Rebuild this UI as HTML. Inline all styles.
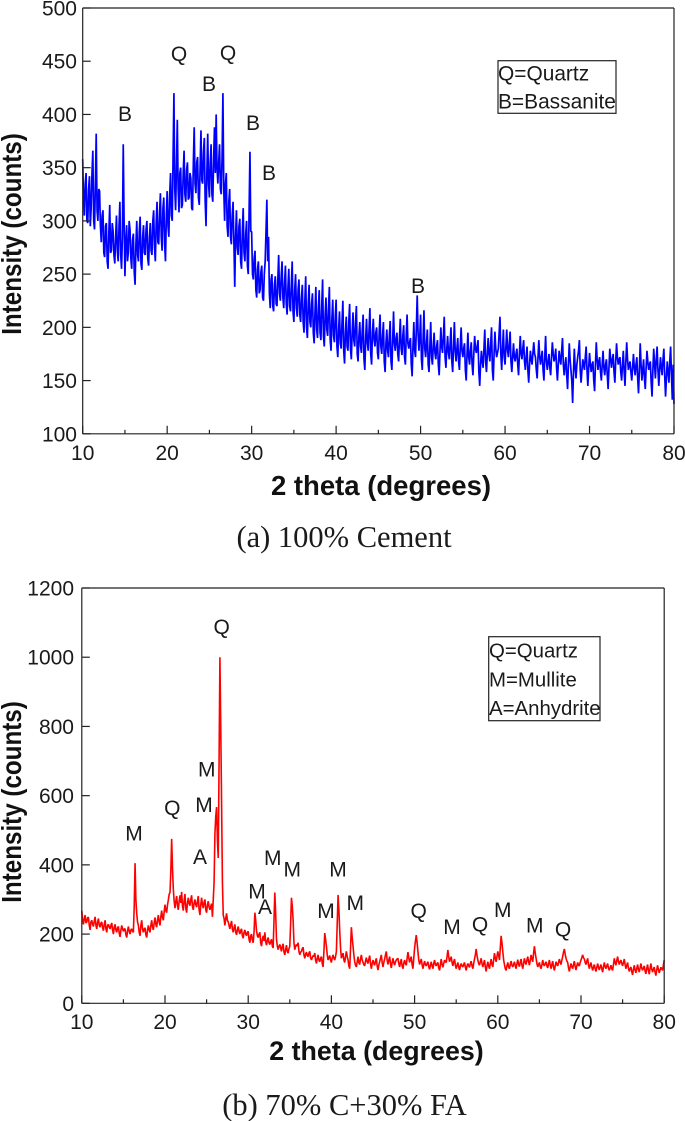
<!DOCTYPE html>
<html lang="en">
<head>
<meta charset="utf-8">
<title>XRD patterns</title>
<style>
html,body{margin:0;padding:0;background:#fff;width:685px;height:1121px;overflow:hidden}
svg{display:block}
text{font-family:"Liberation Sans",sans-serif;fill:#1a1a1a}
.serif{font-family:"Liberation Serif",serif;font-size:30.5px}
.tick{font-size:21px}
.title{font-size:27.5px;font-weight:bold;fill:#111}
.ann{font-size:21px;text-anchor:middle}
.leg{font-size:20.9px}
.leg2{font-size:20.4px}
</style>
</head>
<body>
<svg id="fig" xmlns="http://www.w3.org/2000/svg" width="685" height="1121" viewBox="0 0 685 1121">
  <g id="chartA"></g>
  <g id="chartB"></g>

  <g>
    <text class="ann" x="125" y="121">B</text>
    <text class="ann" x="179" y="61">Q</text>
    <text class="ann" x="209" y="91">B</text>
    <text class="ann" x="228" y="60">Q</text>
    <text class="ann" x="253" y="130">B</text>
    <text class="ann" x="269" y="180">B</text>
    <text class="ann" x="418" y="293">B</text>
  </g>
  <g>
    <rect x="498" y="60.7" width="118" height="52.6" fill="none" stroke="#222" stroke-width="1.2"/>
    <text class="leg" x="498" y="80.7">Q=Quartz</text>
    <text class="leg" x="498" y="108.3">B=Bassanite</text>
  </g>
  <text class="title" x="381" y="495" text-anchor="middle">2 theta (degrees)</text>
  <text class="title" transform="translate(21,234) rotate(-90) scale(0.88,1)" text-anchor="middle">Intensity (counts)</text>
  <text class="serif" x="344" y="547" text-anchor="middle">(a) 100% Cement</text>

  <g>
    <text class="ann" x="134" y="840.7">M</text>
    <text class="ann" x="172.3" y="815">Q</text>
    <text class="ann" x="206.7" y="776.7">M</text>
    <text class="ann" x="204" y="812">M</text>
    <text class="ann" x="200" y="864">A</text>
    <text class="ann" x="221.7" y="634">Q</text>
    <text class="ann" x="272.7" y="865">M</text>
    <text class="ann" x="292.3" y="876.7">M</text>
    <text class="ann" x="257" y="898.3">M</text>
    <text class="ann" x="265" y="914">A</text>
    <text class="ann" x="326" y="918">M</text>
    <text class="ann" x="338" y="876.7">M</text>
    <text class="ann" x="355.3" y="910">M</text>
    <text class="ann" x="418.7" y="918">Q</text>
    <text class="ann" x="452" y="934">M</text>
    <text class="ann" x="480" y="931.7">Q</text>
    <text class="ann" x="502.7" y="917">M</text>
    <text class="ann" x="534.7" y="932.7">M</text>
    <text class="ann" x="563" y="936.7">Q</text>
  </g>
  <g>
    <rect x="488.7" y="636.7" width="111.3" height="84" fill="none" stroke="#222" stroke-width="1.2"/>
    <text class="leg2" x="489" y="657.7">Q=Quartz</text>
    <text class="leg2" x="489" y="686.7">M=Mullite</text>
    <text class="leg2" x="489" y="715">A=Anhydrite</text>
  </g>
  <text class="title" x="376.5" y="1060" text-anchor="middle" style="font-size:26.8px">2 theta (degrees)</text>
  <text class="title" transform="translate(21,802) rotate(-90) scale(0.88,1)" text-anchor="middle">Intensity (counts)</text>
  <text class="serif" x="344.5" y="1115" text-anchor="middle">(b) 70% C+30% FA</text>
</svg>

<script>
const xStart = 10;
const xStep = 0.1;
const xTicksMajor = [10, 20, 30, 40, 50, 60, 70, 80];
const xTicksMinor = [15, 25, 35, 45, 55, 65, 75];
const yTicksCement = [100, 150, 200, 250, 300, 350, 400, 450, 500];
const yTicksFlyAsh = [0, 200, 400, 600, 800, 1000, 1200];

const cementCounts = [
358,320,305,335,345,300,298,330,342,295,312,345,366,300,292,335,382,310,300,330,
328,295,280,305,310,270,266,295,298,262,255,290,315,270,272,298,290,268,260,285,
305,272,262,295,318,268,255,285,372,300,248,280,296,262,270,300,292,265,255,282,
288,252,240,278,300,268,262,290,304,260,254,285,296,270,268,292,300,265,258,285,
298,272,268,300,310,275,262,298,318,280,278,308,326,285,272,312,322,278,262,305,
328,295,285,325,345,305,300,360,420,330,310,350,395,330,308,345,350,312,315,345,
366,325,318,348,355,320,322,345,340,312,310,355,388,335,326,355,360,322,315,350,
385,338,335,365,378,318,295,345,382,335,322,355,372,325,318,358,388,345,400,350,
335,355,372,330,325,360,420,330,300,335,345,295,285,318,330,285,278,305,318,280,
238,285,310,275,268,295,302,262,255,290,312,270,262,288,300,258,250,310,365,290,
290,250,245,265,272,235,228,255,262,232,235,252,258,228,225,250,262,290,320,262,
285,232,218,245,250,220,215,240,248,222,220,245,268,232,225,248,262,228,218,242,
258,222,212,238,255,220,215,240,262,215,205,235,250,218,210,235,245,212,205,228,
240,205,195,225,248,200,190,222,240,205,200,222,232,195,185,215,238,198,190,218,
235,195,188,220,245,192,182,212,228,198,192,218,238,188,178,208,226,192,186,210,
226,182,172,198,215,185,180,205,225,178,166,195,210,182,178,205,222,180,170,195,
214,188,182,205,220,175,168,192,205,182,176,198,212,170,160,190,208,185,178,198,
218,175,165,195,208,188,182,195,200,176,170,195,212,182,175,192,205,168,158,185,
198,178,172,192,206,168,160,188,215,185,178,190,195,175,168,190,208,180,174,192,
202,172,165,192,212,185,180,186,190,165,154,182,205,178,172,200,230,195,178,190,
212,170,160,190,216,180,172,185,198,165,158,182,205,172,165,182,195,176,170,182,
188,165,155,178,200,182,176,192,210,172,162,180,192,176,170,185,200,168,158,182,
205,178,168,180,190,168,160,182,200,178,172,180,185,160,150,175,195,172,165,178,
186,165,155,175,192,180,176,182,188,158,145,165,178,168,162,180,198,168,158,175,
190,175,168,185,200,160,150,175,196,180,172,176,180,195,210,175,160,180,198,172,
165,182,198,178,172,185,196,168,158,172,185,172,168,175,180,165,155,175,192,175,
170,180,188,168,160,172,182,160,148,165,178,170,165,176,186,175,172,160,152,172,
188,172,165,172,178,160,150,172,192,168,160,168,175,162,155,172,186,175,168,172,
180,162,150,165,178,170,165,178,190,165,155,165,172,155,142,165,185,170,160,150,
129,158,180,162,152,165,172,178,188,160,148,160,170,165,160,172,182,160,145,162,
176,165,158,165,168,150,140,165,186,170,160,168,172,158,150,165,178,162,155,165,
170,155,142,162,180,170,162,170,175,158,148,168,185,172,165,170,172,158,150,165,
178,158,145,168,186,170,160,165,168,158,150,162,175,162,155,165,172,152,138,160,
185,165,150,160,170,152,142,162,178,168,160,165,168,148,135,160,180,165,152,170,
182,160,145,160,172,162,155,170,180,155,135,152,168,158,148,168,182,155,132,165,
128];

const flyAshCounts = [
268,240,228,245,255,232,235,248,248,225,212,235,240,228,222,238,250,225,215,235,
245,225,220,232,235,218,210,228,240,215,205,225,228,220,215,225,232,212,200,220,
228,212,205,218,222,202,192,212,225,215,208,215,215,198,190,210,222,208,200,212,
215,208,205,280,405,300,260,235,225,205,195,225,240,215,205,215,218,198,190,212,
225,212,205,225,240,220,212,232,248,228,220,240,255,235,225,250,268,248,240,265,
285,268,262,285,298,315,320,380,475,390,330,295,275,295,310,282,270,295,312,290,
322,280,268,298,316,275,262,290,305,288,282,300,312,280,270,290,300,285,278,295,
310,270,255,285,305,285,275,292,300,270,262,285,295,278,270,280,288,250,300,350,
490,540,567,470,420,700,1000,800,580,350,255,245,225,245,260,240,235,225,215,228,
238,215,205,218,228,205,198,212,222,208,200,210,215,195,188,205,212,200,195,205,
208,185,175,195,200,182,175,205,262,240,210,195,190,200,205,175,165,185,195,180,
205,178,168,182,190,175,170,178,185,165,160,240,320,260,185,165,155,165,170,160,
150,165,172,148,140,155,168,150,145,158,165,230,305,280,240,175,155,165,170,165,
175,150,140,148,150,158,162,140,130,142,148,138,135,145,150,132,125,132,138,135,
145,125,115,130,140,125,120,130,135,115,105,150,203,185,165,140,125,132,138,125,
118,132,140,130,125,135,150,230,313,270,210,160,130,138,145,125,118,135,150,135,
125,108,100,160,220,190,165,140,120,110,105,120,135,118,112,128,140,125,118,112,
108,122,132,120,115,128,138,115,100,115,125,115,110,122,130,108,96,110,120,130,
140,118,105,118,128,140,150,125,112,125,135,115,102,118,130,118,110,120,125,128,
130,115,105,118,128,108,100,115,125,115,110,130,148,132,118,128,135,112,100,130,
160,180,197,175,150,125,112,120,128,112,100,112,122,112,108,115,120,106,98,110,
120,108,100,115,125,112,108,115,118,102,95,112,128,112,104,115,125,120,118,135,
154,135,120,128,135,118,108,120,128,110,100,110,118,105,96,108,115,108,105,112,
118,104,95,108,115,108,104,115,122,108,100,115,128,140,157,138,125,115,110,120,
130,115,105,115,125,105,92,108,120,108,100,115,128,112,105,125,145,130,120,135,
150,138,125,160,195,175,150,125,112,100,95,108,118,106,100,112,122,110,105,112,
120,108,100,115,126,112,106,118,128,110,100,115,130,118,112,125,135,120,110,125,
140,128,120,145,165,145,130,115,105,112,118,106,100,112,125,112,108,115,120,108,
102,115,125,110,100,112,122,105,95,108,120,112,108,118,128,118,112,125,135,148,
157,142,130,122,118,102,92,105,115,105,100,112,122,106,96,108,118,110,108,118,
125,132,140,132,128,118,112,122,130,112,100,110,118,105,95,104,112,100,92,104,
115,104,96,105,112,100,90,105,118,106,100,108,115,102,95,102,110,100,95,112,
130,118,110,124,135,120,112,120,125,115,108,118,128,112,100,110,118,102,92,100,
105,92,82,98,110,96,88,100,112,98,90,102,115,102,95,102,108,94,85,100,
112,96,84,100,115,100,90,98,105,90,80,96,110,98,88,96,104,100,95,110,
125];

const NS = 'http://www.w3.org/2000/svg';

function scale(d0, d1, r0, r1) {
  return function (v) { return r0 + (v - d0) * (r1 - r0) / (d1 - d0); };
}

function addLine(parent, x1, y1, x2, y2, name) {
  const el = document.createElementNS(NS, 'line');
  el.setAttribute('x1', x1);
  el.setAttribute('y1', y1);
  el.setAttribute('x2', x2);
  el.setAttribute('y2', y2);
  el.setAttribute('stroke', '#222');
  el.setAttribute('stroke-width', '1.2');
  
  
  parent.appendChild(el);
}

function addLabel(parent, x, y, anchor, str, name) {
  const el = document.createElementNS(NS, 'text');
  el.setAttribute('x', x);
  el.setAttribute('y', y);
  el.setAttribute('text-anchor', anchor);
  el.setAttribute('class', 'tick');
  
  
  el.textContent = str;
  parent.appendChild(el);
}

function drawChart(opt) {
  const g = document.getElementById(opt.id);
  const xA = scale(10, 80, opt.left, opt.right);
  const yA = scale(opt.yMin, opt.yMax, opt.bottom, opt.top);

  const pts = opt.values.map(function (v, i) {
    return xA(xStart + i * xStep).toFixed(2) + ',' + yA(v).toFixed(2);
  }).join(' ');
  const series = document.createElementNS(NS, 'polyline');
  series.setAttribute('points', pts);
  series.setAttribute('fill', 'none');
  series.setAttribute('stroke', opt.color);
  series.setAttribute('stroke-width', opt.width);
  series.setAttribute('stroke-linejoin', 'bevel');
  
  
  g.appendChild(series);

  addLine(g, opt.left, opt.top, opt.right, opt.top, 'plot-top-border');
  addLine(g, opt.right, opt.top, opt.right, opt.bottom, 'plot-right-border');
  addLine(g, opt.left, opt.top, opt.left, opt.bottom, 'y-axis-line');
  addLine(g, opt.left, opt.bottom, opt.right, opt.bottom, 'x-axis-line');

  xTicksMajor.forEach(function (t) {
    addLine(g, xA(t), opt.bottom, xA(t), opt.bottom - 8, 'x-major-tick');
    addLabel(g, xA(t), opt.xLabelY, 'middle', String(t), 'x-tick-label');
  });
  xTicksMinor.forEach(function (t) {
    addLine(g, xA(t), opt.bottom, xA(t), opt.bottom - 4, 'x-minor-tick');
  });
  opt.yTicks.forEach(function (t) {
    addLine(g, opt.left, yA(t), opt.left + 8, yA(t), 'y-major-tick');
    addLabel(g, opt.yLabelX, yA(t) + 7.5, 'end', String(t), 'y-tick-label');
  });
}

drawChart({
  id: 'chartA', left: 82.7, right: 674, top: 8, bottom: 433.8,
  yMin: 100, yMax: 500, yTicks: yTicksCement, values: cementCounts,
  color: '#0000ff', width: 1.7, seriesName: 'cement-xrd-trace',
  xLabelY: 460, yLabelX: 77
});
drawChart({
  id: 'chartB', left: 81.8, right: 664.2, top: 588, bottom: 1003.3,
  yMin: 0, yMax: 1200, yTicks: yTicksFlyAsh, values: flyAshCounts,
  color: '#ff0000', width: 1.6, seriesName: 'fly-ash-xrd-trace',
  xLabelY: 1029, yLabelX: 74
});
</script>
</body>
</html>
